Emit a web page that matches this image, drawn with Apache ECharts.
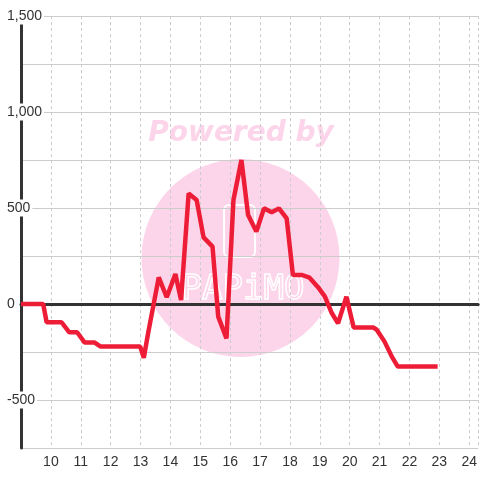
<!DOCTYPE html>
<html>
<head>
<meta charset="utf-8">
<script src="https://cdn.jsdelivr.net/npm/echarts@6/dist/echarts.min.js"></script>
<style>html,body{margin:0;padding:0;background:#fff}#c{width:480px;height:480px}</style>
</head>
<body>
<div id="c"></div>
<script>
// time of day (hours) and values
const hours = [9.0, 9.743, 9.857, 10.357, 10.61, 10.877, 11.133, 11.467, 11.667, 12.99, 13.11, 13.267,
  13.61, 13.877, 14.167, 14.357, 14.61, 14.877, 15.11, 15.41, 15.6, 15.877, 16.11, 16.377, 16.6, 16.877,
  17.133, 17.39, 17.633, 17.89, 18.1, 18.41, 18.657, 18.933, 19.167, 19.4, 19.61, 19.89, 20.133, 20.8,
  20.91, 21.167, 21.41, 21.61, 22.943];
const values = [0, 0, -95, -95, -147, -147, -201, -201, -222, -222, -280, -141,
  139, 35, 156, 21, 576, 542, 347, 299, -66, -179, 542, 750, 464, 377,
  498, 478, 498, 446, 151, 151, 137, 89, 40, -47, -101, 38, -122, -123,
  -135, -196, -274, -326, -326];
const xTicks = [10, 11, 12, 13, 14, 15, 16, 17, 18, 19, 20, 21, 22, 23, 24];
const yTickLabels = [-500, 0, 500, 1000, 1500];

const chart = echarts.init(document.getElementById('c'));
const data = hours.map((h, i) => [h, values[i]]);
const xMin = 9, xMax = 24.3;
chart.setOption({
  animation: false,
  grid: { left: 21, right: 0, top: 16, bottom: 32, containLabel: false },
  graphic: [
    { type: 'circle', shape: { cx: 240.5, cy: 258, r: 99 }, style: { fill: '#fcd5ea' }, z: -10, silent: true },
    { type: 'rect', shape: { x: 224, y: 205, width: 31, height: 52, r: 5 }, style: { fill: 'none', stroke: '#ffffff', lineWidth: 2 }, z: -9, silent: true },
    { type: 'text', x: 243, y: 290, style: { text: 'PAPiMO', font: '34px "DejaVu Sans Mono"', fill: 'rgba(0,0,0,0)', stroke: '#ffffff', lineWidth: 1.5, align: 'center', verticalAlign: 'middle' }, z: -9, silent: true },
    { type: 'text', x: 241, y: 134, style: { text: 'Powered by', font: 'italic bold 28px "DejaVu Sans"', fill: '#fcd5ea', align: 'center', verticalAlign: 'middle' }, z: -9, silent: true }
  ],
  xAxis: [
    {
      type: 'value', min: xMin, max: xMax, interval: 1, position: 'bottom',
      axisLine: { show: false, onZero: false },
      axisTick: { show: false },
      axisLabel: {
        color: '#333', fontSize: 14, fontFamily: 'Liberation Sans', margin: 7,
        showMaxLabel: false,
        formatter: v => (xTicks.indexOf(v) >= 0 ? String(v) : '')
      },
      splitLine: { show: true, lineStyle: { color: '#cccccc', type: [3, 3], width: 1 } }
    },
    {
      type: 'value', min: xMin, max: xMax, interval: 1,
      axisLine: { show: true, onZero: true, onZeroAxisIndex: 0, lineStyle: { color: '#333', width: 3 } },
      axisTick: { show: false }, axisLabel: { show: false }, splitLine: { show: false }
    }
  ],
  yAxis: {
    type: 'value', min: -750, max: 1500, interval: 250,
    axisLine: { show: true, lineStyle: { color: '#333', width: 3 } },
    axisTick: { show: false },
    axisLabel: {
      color: '#333', fontSize: 14, fontFamily: 'Liberation Sans', margin: 15, align: 'left',
      backgroundColor: '#ffffff', padding: [3, 2, 0, 1],
      formatter: v => (yTickLabels.indexOf(v) >= 0 ? v.toLocaleString('en-US') : '')
    },
    splitLine: { show: true, lineStyle: { color: '#cccccc', width: 1 } }
  },
  series: [{
    type: 'line', data: data, xAxisIndex: 0, showSymbol: false, symbol: 'none',
    lineStyle: { color: '#ee1d37', width: 4.5 }, itemStyle: { color: '#ee1d37' }, z: 5
  }]
});
</script>
</body>
</html>
